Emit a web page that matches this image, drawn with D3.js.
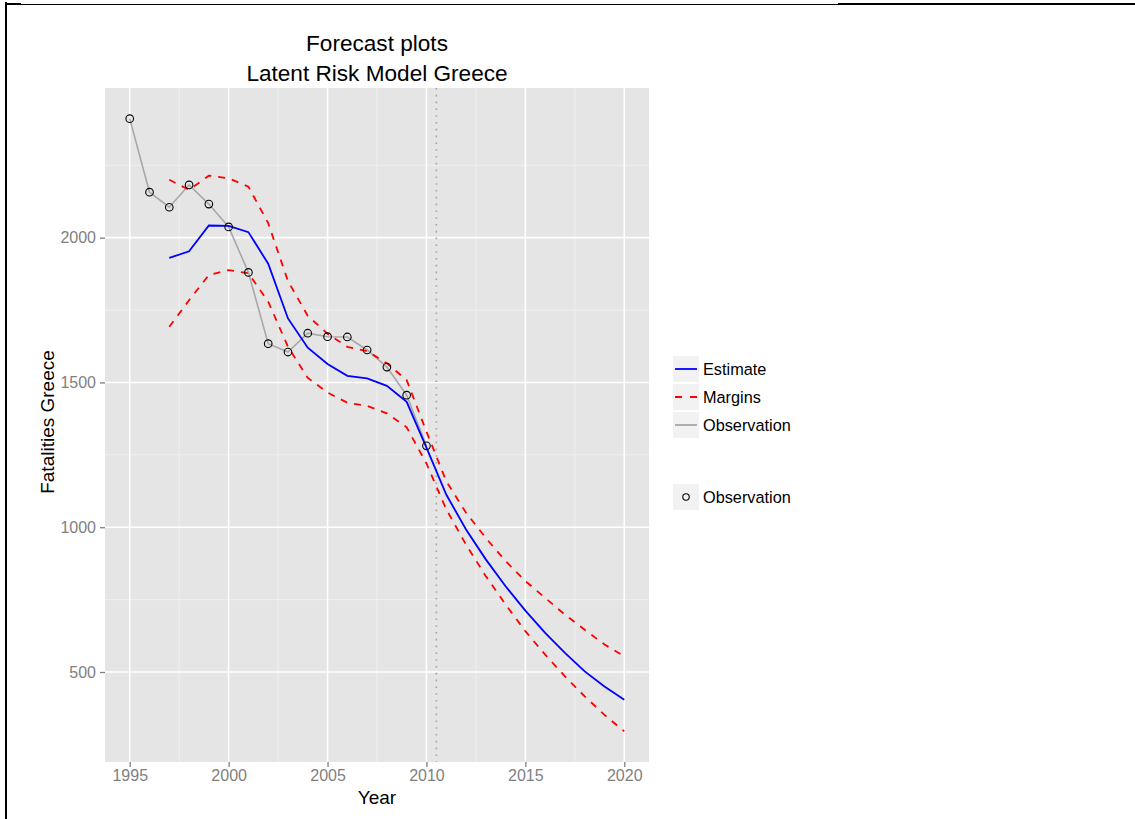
<!DOCTYPE html>
<html>
<head>
<meta charset="utf-8">
<script src="https://cdn.jsdelivr.net/npm/d3@7"></script>
<style>
    body { margin: 0; background: #fff; }
    svg { display: block; font-family: "Liberation Sans", Arial, sans-serif; }
</style>
</head>
<body>
<div id="chart"></div>
<script>
// observed fatalities 1995-2010
const obsYears = [1995, 1996, 1997, 1998, 1999, 2000, 2001, 2002, 2003, 2004, 2005, 2006, 2007, 2008, 2009, 2010];
const observed = [2411, 2157, 2105, 2182, 2116, 2037, 1880, 1634, 1605, 1670, 1658, 1657, 1612, 1553, 1456, 1281];

// model estimate and margins 1997-2020
const fitYears = [1997, 1998, 1999, 2000, 2001, 2002, 2003, 2004, 2005, 2006, 2007, 2008,
                  2009, 2010, 2011, 2012, 2013, 2014, 2015, 2016, 2017, 2018, 2019, 2020];
const estimate = [1930, 1953, 2042, 2041, 2019, 1910, 1721, 1620, 1564, 1523, 1514, 1488,
                  1433, 1275, 1113, 992, 889, 796, 712, 635, 566, 502, 450, 404];
const upper = [2200, 2165, 2214, 2205, 2176, 2050, 1850, 1730, 1668, 1623, 1608, 1566,
               1508, 1330, 1159, 1050, 963, 883, 814, 756, 698, 646, 595, 554];
const lower = [1692, 1784, 1871, 1888, 1877, 1779, 1623, 1516, 1465, 1430, 1419, 1393,
               1345, 1220, 1062, 940, 831, 733, 641, 560, 485, 416, 352, 295];

const forecastStart = 2010.5;

const xTicks = [1995, 2000, 2005, 2010, 2015, 2020];
const xMinor = [1997.5, 2002.5, 2007.5, 2012.5, 2017.5];
const yTicks = [500, 1000, 1500, 2000];
const yMinor = [750, 1250, 1750, 2250];

const lineKeys = ["Estimate", "Margins", "Observation"];
const pointKeys = ["Observation"];

const width = 1135, height = 819;
const panel = {left: 105, right: 649, top: 88, bottom: 762};

const svg = d3.select("#chart").append("svg")
    .attr("width", width)
    .attr("height", height);

// frame lines around the page
svg.append("rect").attr("x", 5).attr("y", 2).attr("width", 2).attr("height", height - 2).attr("fill", "#000");
svg.append("rect").attr("x", 7).attr("y", 3).attr("width", 14).attr("height", 2).attr("fill", "#000");
svg.append("rect").attr("x", 21).attr("y", 4).attr("width", 817).attr("height", 1).attr("fill", "#000");
svg.append("rect").attr("x", 838).attr("y", 3).attr("width", width - 838).attr("height", 2).attr("fill", "#000");

// scales with 5% expansion like ggplot
const xExt = [d3.min(obsYears.concat(fitYears)), d3.max(obsYears.concat(fitYears))];
const xPad = (xExt[1] - xExt[0]) * 0.05;
const allVals = observed.concat(estimate, upper, lower);
const yExt = d3.extent(allVals);
const yPad = (yExt[1] - yExt[0]) * 0.05;

const x = d3.scaleLinear()
    .domain([xExt[0] - xPad, xExt[1] + xPad])
    .range([panel.left, panel.right]);
const y = d3.scaleLinear()
    .domain([yExt[0] - yPad, yExt[1] + yPad])
    .range([panel.bottom, panel.top]);

svg.append("rect")
    .attr("x", panel.left).attr("y", panel.top)
    .attr("width", panel.right - panel.left)
    .attr("height", panel.bottom - panel.top)
    .attr("fill", "#e5e5e5");

let grid = svg.append("g");
grid.selectAll(".xminor").data(xMinor).enter().append("line")
    .attr("x1", d => x(d)).attr("x2", d => x(d))
    .attr("y1", panel.top).attr("y2", panel.bottom)
    .attr("stroke", "#f2f2f2").attr("stroke-width", 0.8);
grid.selectAll(".yminor").data(yMinor).enter().append("line")
    .attr("y1", d => y(d)).attr("y2", d => y(d))
    .attr("x1", panel.left).attr("x2", panel.right)
    .attr("stroke", "#f2f2f2").attr("stroke-width", 0.8);
grid.selectAll(".xmajor").data(xTicks).enter().append("line")
    .attr("x1", d => x(d)).attr("x2", d => x(d))
    .attr("y1", panel.top).attr("y2", panel.bottom)
    .attr("stroke", "#fff").attr("stroke-width", 1.6);
grid.selectAll(".ymajor").data(yTicks).enter().append("line")
    .attr("y1", d => y(d)).attr("y2", d => y(d))
    .attr("x1", panel.left).attr("x2", panel.right)
    .attr("stroke", "#fff").attr("stroke-width", 1.6);

// forecast start
svg.append("line")
    .attr("x1", x(forecastStart)).attr("x2", x(forecastStart))
    .attr("y1", panel.top).attr("y2", panel.bottom)
    .attr("stroke", "#a3a3a3").attr("stroke-width", 1.6)
    .attr("stroke-dasharray", "1.6,5.2");

const fitData = fitYears.map((yr, i) => ({year: yr, est: estimate[i], up: upper[i], lo: lower[i]}));
const obsData = obsYears.map((yr, i) => ({year: yr, val: observed[i]}));

const line = key => d3.line().x(d => x(d.year)).y(d => y(d[key]));

svg.append("path").datum(obsData)
    .attr("d", line("val"))
    .attr("fill", "none").attr("stroke", "#a8a8a8").attr("stroke-width", 1.6);

svg.append("path").datum(fitData)
    .attr("d", line("est"))
    .attr("fill", "none").attr("stroke", "#0000ff").attr("stroke-width", 1.8);

["up", "lo"].forEach(function (k) {
    svg.append("path").datum(fitData)
        .attr("d", line(k))
        .attr("fill", "none").attr("stroke", "#ff0000").attr("stroke-width", 1.8)
        .attr("stroke-dasharray", "7,7");
});

svg.selectAll(".obs").data(obsData).enter().append("circle")
    .attr("cx", d => x(d.year)).attr("cy", d => y(d.val))
    .attr("r", 3.8)
    .attr("fill", "none").attr("stroke", "#000").attr("stroke-width", 1.1);

// axes
const xAxis = svg.append("g")
    .attr("transform", "translate(0," + panel.bottom + ")")
    .call(d3.axisBottom(x).tickValues(xTicks).tickFormat(d3.format("d")).tickSize(5).tickPadding(3));
const yAxis = svg.append("g")
    .attr("transform", "translate(" + panel.left + ",0)")
    .call(d3.axisLeft(y).tickValues(yTicks).tickFormat(d3.format("d")).tickSize(5).tickPadding(4));

[xAxis, yAxis].forEach(function (a) {
    a.select(".domain").remove();
    a.selectAll(".tick line").attr("stroke", "#7f7f7f").attr("stroke-width", 1.3);
    a.selectAll(".tick text")
        .attr("fill", "#7f7f7f")
        .style("font-size", "16px")
        .style("font-family", "Liberation Sans, Arial, sans-serif");
});

svg.append("text")
    .attr("x", (panel.left + panel.right) / 2).attr("y", 804)
    .attr("text-anchor", "middle")
    .style("font-size", "19px")
    .text("Year");

svg.append("text")
    .attr("transform", "translate(54,422) rotate(-90)")
    .attr("text-anchor", "middle")
    .style("font-size", "19px")
    .text("Fatalities Greece");

svg.append("text")
    .attr("x", (panel.left + panel.right) / 2).attr("y", 51)
    .attr("text-anchor", "middle")
    .style("font-size", "22.6px")
    .text("Forecast plots");
svg.append("text")
    .attr("x", (panel.left + panel.right) / 2).attr("y", 81)
    .attr("text-anchor", "middle")
    .style("font-size", "22.6px")
    .text("Latent Risk Model Greece");

// legends
const keyX = 673, keyW = 26, keyH = 26, keyStep = 28;
const lineStyle = {
    "Estimate": {stroke: "#0000ff", dash: null},
    "Margins": {stroke: "#ff0000", dash: "7,8"},
    "Observation": {stroke: "#a8a8a8", dash: null}
};

let leg = svg.append("g").attr("transform", "translate(" + keyX + ",356)");
lineKeys.forEach(function (k, i) {
    let g = leg.append("g").attr("transform", "translate(0," + (i * keyStep) + ")");
    g.append("rect").attr("width", keyW).attr("height", keyH).attr("fill", "#f2f2f2");
    g.append("line")
        .attr("x1", 2).attr("x2", keyW - 2)
        .attr("y1", keyH / 2).attr("y2", keyH / 2)
        .attr("stroke", lineStyle[k].stroke).attr("stroke-width", 1.8)
        .attr("stroke-dasharray", lineStyle[k].dash);
    g.append("text")
        .attr("x", keyW + 4).attr("y", keyH / 2).attr("dy", "0.36em")
        .style("font-size", "16.3px")
        .text(k);
});

let leg2 = svg.append("g").attr("transform", "translate(" + keyX + ",484)");
pointKeys.forEach(function (k, i) {
    let g = leg2.append("g").attr("transform", "translate(0," + (i * keyStep) + ")");
    g.append("rect").attr("width", keyW).attr("height", keyH).attr("fill", "#f2f2f2");
    g.append("circle")
        .attr("cx", keyW / 2).attr("cy", keyH / 2).attr("r", 3.2)
        .attr("fill", "none").attr("stroke", "#000").attr("stroke-width", 1.1);
    g.append("text")
        .attr("x", keyW + 4).attr("y", keyH / 2).attr("dy", "0.36em")
        .style("font-size", "16.3px")
        .text(k);
});
</script>
</body>
</html>
